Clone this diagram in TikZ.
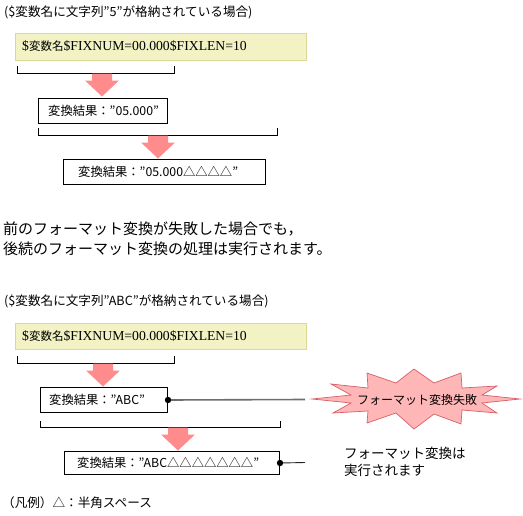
\documentclass[tikz,border=0pt]{standalone}
\usepackage{fontspec}
\setmainfont{Noto Sans CJK JP}
\newfontfamily\serifl{Liberation Serif}
\definecolor{ybfill}{RGB}{242,242,196}
\definecolor{ybdraw}{RGB}{218,218,150}
\definecolor{arrowpink}{RGB}{255,140,140}
\definecolor{burstfill}{RGB}{255,182,182}
\definecolor{burstdraw}{RGB}{215,95,105}
\definecolor{linegray}{RGB}{110,110,110}
\tikzset{
  resbox/.style={draw=black, line width=1pt, inner sep=0pt, anchor=north west},
  ybox/.style={fill=ybfill, draw=ybdraw, line width=0.8pt, inner sep=0pt, anchor=north west},
  boxtxt/.style={inner sep=0pt, anchor=west, font=\fontsize{12.3}{14}\selectfont},
  smalltxt/.style={inner sep=0pt, anchor=west, font=\fontsize{12.6}{14}\selectfont},
  brk/.style={draw=black, line width=0.9pt},
  downarr/.pic={\fill[arrowpink] (-10,0) -- (10,0) -- (10,7) -- (17,7) -- (0,23) -- (-17,7) -- (-10,7) -- cycle;},
  dotline/.style={line width=1.6pt, draw=linegray},
  dotline2/.style={line width=0.9pt, draw=black!85},
}
\newcommand{\yboxtext}{{\serifl\fontsize{13.7}{16}\selectfont \$}{\fontsize{11.5}{14}\selectfont 変数名}{\serifl\fontsize{13.7}{16}\selectfont \$FIXNUM=00.000\$FIXLEN=10}}
\begin{document}
\begin{tikzpicture}[x=1pt,y=-1pt]
\useasboundingbox[fill=white] (0,0) rectangle (523,515);

% ---------- section 1 ----------
\node[smalltxt] (title1) at (4,12) {(\$変数名に文字列”5”が格納されている場合)};
\node[ybox, minimum width=291, minimum height=27] (y1) at (15,33) {};
\node[inner sep=0pt, anchor=west] (y1t) at (22,46.5) {\yboxtext};
\draw[brk] (17,66) -- (17,73) -- (174,73) -- (174,66);
\pic at (102,73.5) {downarr};
\node[resbox, minimum width=129, minimum height=25] (b1) at (38,98) {};
\node[boxtxt] (b1t) at (48,110.5) {変換結果：”05.000”};
\draw[brk] (38,128) -- (38,135) -- (277,135) -- (277,128);
\pic at (158,135.5) {downarr};
\node[resbox, minimum width=202, minimum height=25] (b2) at (63,159) {};
\node[boxtxt] (b2t) at (78,171.5) {変換結果：”05.000△△△△”};

% ---------- middle text ----------
\node[inner sep=0pt, anchor=west, align=left, font=\fontsize{15}{19.5}\selectfont] (mid) at (3,239) {前のフォーマット変換が失敗した場合でも，\\後続のフォーマット変換の処理は実行されます。};

% ---------- section 2 ----------
\node[smalltxt] (title2) at (4,301) {(\$変数名に文字列”ABC”が格納されている場合)};
\node[ybox, minimum width=291, minimum height=26] (y2) at (15,323) {};
\node[inner sep=0pt, anchor=west] (y2t) at (22,336) {\yboxtext};
\draw[brk] (17,356) -- (17,363) -- (174,363) -- (174,356);
\pic at (103,363.5) {downarr};
\node[resbox, minimum width=127, minimum height=25] (b3) at (40,387) {};
\node[boxtxt] (b3t) at (49,399.5) {変換結果：”ABC”};
\draw[brk] (40,421) -- (40,427) -- (280,427) -- (280,421);
\pic at (178,427.5) {downarr};
\node[resbox, minimum width=215, minimum height=23] (b4) at (64,451) {};
\node[boxtxt] (b4t) at (77,462.5) {変換結果：”ABC△△△△△△△”};

% connectors
\coordinate (e3) at (305,399.5);
\coordinate (e4) at (305,462.5);
\draw[dotline] (b3.east) -- (e3);
\draw[dotline2] (b4.east) -- (e4);
\fill (b3.east) circle (3.2);
\fill (b4.east) circle (3.2);

% starburst
\filldraw[fill=burstfill, draw=burstdraw, line width=0.7pt]
  (312,399) -- (351,395) -- (331,384) -- (368,388) -- (367,373) -- (396,383) --
  (414,369) -- (434,383) -- (461,373) -- (462,388) -- (497,386) -- (482,395) --
  (520,399) -- (482,403) -- (497,413) -- (462,410) -- (461,424) -- (434,414) --
  (414,429) -- (396,413) -- (367,423) -- (368,411) -- (333,413) -- (351,403) -- cycle;
\node[inner sep=0pt, font=\fontsize{12}{14}\selectfont] (fail) at (417,399.5) {フォーマット変換失敗};

\node[inner sep=0pt, anchor=west, align=left, font=\fontsize{13.5}{17}\selectfont] (ok) at (344,461.5) {フォーマット変換は\\実行されます};

% legend
\node[smalltxt] (legend) at (2,503) {（凡例）△：半角スペース};
\end{tikzpicture}
\end{document}
